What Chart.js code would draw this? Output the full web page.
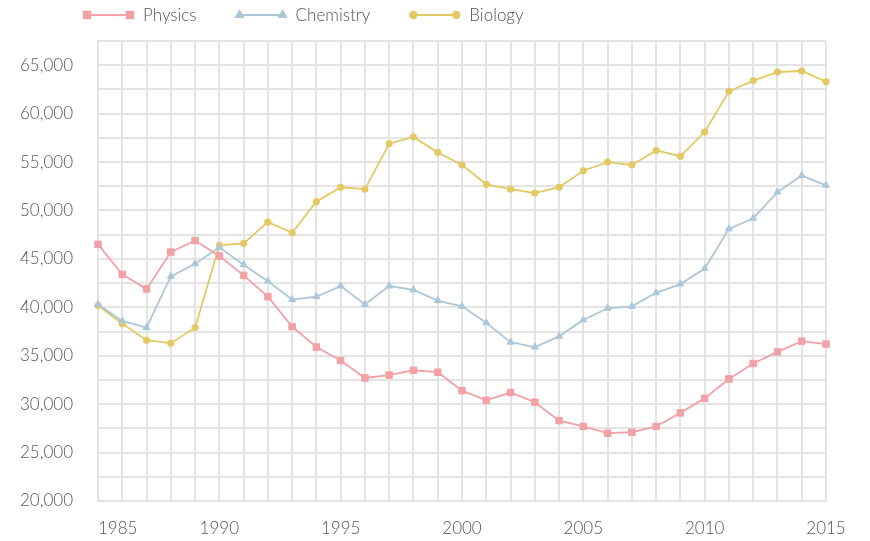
<!DOCTYPE html>
<html>
<head>
<meta charset="utf-8">
<script src="https://cdn.jsdelivr.net/npm/chart.js@4/dist/chart.umd.min.js"></script>
<style>
  html, body { margin: 0; padding: 0; background: #fff; }
  #wrap { width: 870px; height: 541px; }
</style>
</head>
<body>
<div id="wrap"><canvas id="trendChart"></canvas></div>
<script>
// Degrees by field, 1985-2015

const years = [1985, 1986, 1987, 1988, 1989, 1990, 1991, 1992, 1993, 1994, 1995,
               1996, 1997, 1998, 1999, 2000, 2001, 2002, 2003, 2004, 2005,
               2006, 2007, 2008, 2009, 2010, 2011, 2012, 2013, 2014, 2015];

const physics = [46500, 43400, 41900, 45700, 46900, 45300, 43300, 41100, 38000, 35900, 34500,
                 32700, 33000, 33500, 33300, 31400, 30400, 31200, 30200, 28300, 27700,
                 27000, 27100, 27700, 29100, 30600, 32600, 34200, 35400, 36500, 36200];

const chemistry = [40300, 38600, 37900, 43200, 44500, 46200, 44400, 42700, 40800, 41100, 42200,
                   40300, 42200, 41800, 40700, 40100, 38400, 36400, 35900, 37000, 38700,
                   39900, 40100, 41500, 42400, 44000, 48100, 49200, 51900, 53600, 52600];

const biology = [40200, 38300, 36600, 36300, 37900, 46400, 46600, 48800, 47700, 50900, 52400,
                 52200, 56900, 57600, 56000, 54700, 52700, 52200, 51800, 52400, 54100,
                 55000, 54700, 56200, 55600, 58100, 62300, 63400, 64300, 64400, 63300];

const seriesNames = ['Physics', 'Chemistry', 'Biology'];

const yMin = 20000;
const yMax = 67500;
const yStep = 2500;

const FONT = 'Lato';
const WEIGHT = 300;
const TEXT_COLOR = '#555555';
const GRID_COLOR = '#e4e4e4';

// legend drawn as line + marker at each end, like the original
const lineLegend = {
    id: 'lineLegend',
    afterDraw(chart) {
        const ctx = chart.ctx;
        let x = 85;
        const y = 15;
        ctx.save();
        ctx.font = WEIGHT + ' 17px ' + FONT;
        ctx.textBaseline = 'middle';
        chart.data.datasets.forEach(ds => {
            ctx.strokeStyle = ds.borderColor;
            ctx.lineWidth = 2;
            ctx.beginPath();
            ctx.moveTo(x, y);
            ctx.lineTo(x + 46, y);
            ctx.stroke();
            ctx.fillStyle = ds.pointBackgroundColor;
            ctx.strokeStyle = ds.pointBackgroundColor;
            [x + 2, x + 45].forEach(px => {
                Chart.helpers.drawPoint(ctx, {
                    pointStyle: ds.pointStyle,
                    radius: ds.pointRadius,
                    rotation: 0,
                    borderWidth: 1
                }, px, y);
            });
            ctx.fillStyle = TEXT_COLOR;
            ctx.fillText(ds.label, x + 58, y + 1);
            x += 58 + ctx.measureText(ds.label).width + 41;
        });
        ctx.restore();
    }
};

// first year label sits flush with the left edge
const firstLabelLeft = {
    id: 'firstLabelLeft',
    beforeDraw(chart) {
        const scale = chart.scales.x;
        const items = scale.getLabelItems();
        const first = items.find(it => String(it.label) === String(years[0]));
        if (first) {
            first.options.textAlign = 'left';
            first.options.translation[0] = scale.left;
        }
    }
};

function makeSet(label, values, color, style, radius) {
    return {
        label: label,
        data: values,
        borderColor: color,
        backgroundColor: color,
        pointBackgroundColor: color,
        pointBorderColor: color,
        pointStyle: style,
        pointRadius: radius,
        pointBorderWidth: 1,
        borderWidth: 1.8,
        tension: 0,
        fill: false
    };
}

new Chart(document.getElementById('trendChart'), {
    type: 'line',
    data: {
        labels: years,
        datasets: [
            makeSet(seriesNames[0], physics, '#f2a1a7', 'rect', 4.6),
            makeSet(seriesNames[1], chemistry, '#adc7d9', 'triangle', 4),
            makeSet(seriesNames[2], biology, '#e3c964', 'circle', 3.2)
        ]
    },
    options: {
        responsive: true,
        maintainAspectRatio: false,
        animation: false,
        layout: { padding: { top: 41, right: 44, left: 0, bottom: 0 } },
        plugins: {
            legend: { display: false },
            tooltip: { enabled: false }
        },
        scales: {
            x: {
                offset: false,
                grid: { color: GRID_COLOR, lineWidth: 2, drawTicks: false },
                border: { color: GRID_COLOR, width: 2 },
                ticks: {
                    autoSkip: false,
                    maxRotation: 0,
                    padding: 17,
                    color: TEXT_COLOR,
                    font: { family: FONT, size: 17, weight: WEIGHT },
                    callback: function (val, idx) {
                        const yr = years[idx];
                        return yr % 5 === 0 ? String(yr) : '';
                    }
                },
                afterFit: s => { s.height = 40; }
            },
            y: {
                min: yMin,
                max: yMax,
                grid: { color: GRID_COLOR, lineWidth: 2, drawTicks: false },
                border: { color: GRID_COLOR, width: 2 },
                ticks: {
                    stepSize: yStep,
                    padding: 25,
                    color: TEXT_COLOR,
                    font: { family: FONT, size: 17, weight: WEIGHT },
                    callback: v => v % 5000 === 0 ? v.toLocaleString('en-US') : ''
                },
                afterFit: s => { s.width = 98; }
            }
        }
    },
    plugins: [lineLegend, firstLabelLeft]
});
</script>
</body>
</html>
